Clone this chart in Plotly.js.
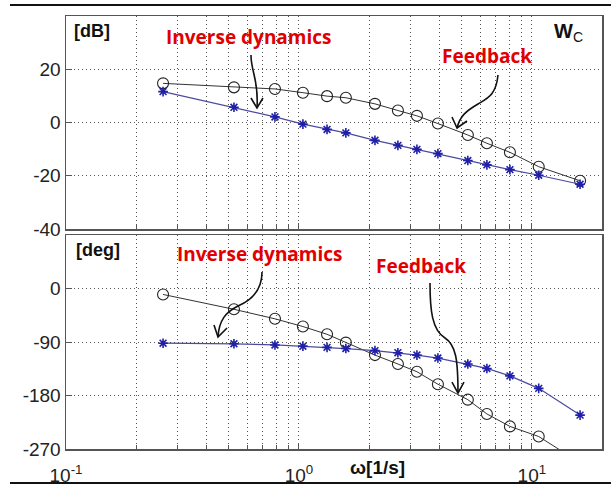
<!DOCTYPE html>
<html>
<head>
<meta charset="utf-8">
<script src="https://cdn.plot.ly/plotly-3.0.1.min.js"></script>
<style>
html,body{margin:0;padding:0;background:#fff;}
#wrap{position:relative;width:611px;height:487px;}
#chart{width:611px;height:487px;}
.frame{position:absolute;left:10px;width:601px;height:0;border-top:2px solid #111;pointer-events:none;}
</style>
</head>
<body>
<div id="wrap">
<div id="chart"></div>
<div class="frame" style="top:4px"></div>
<div class="frame" style="top:482px"></div>
</div>
<script>
// Frequencies [1/s]
const freq = [0.261, 0.526, 0.789, 1.04, 1.32, 1.59, 2.12, 2.66, 3.21, 3.95, 5.31, 6.41, 8.05, 10.7, 16.1];
// Magnitude [dB]
const magFeedback = [14.7, 13.2, 12.6, 11.2, 9.9, 9.3, 7.0, 4.5, 2.5, -0.4, -4.7, -7.8, -11.2, -16.6, -21.9];
const magInverse  = [11.6, 5.7, 2.1, -0.6, -2.6, -3.9, -6.7, -8.6, -10.1, -11.7, -14.3, -15.9, -17.7, -19.8, -23.2];
// Phase [deg]
const phFeedback = [-10, -35, -51, -64, -77, -91, -112, -127, -140, -161, -187, -211, -232, -249, -293];
const phInverse  = [-92, -93, -95, -97, -99, -101, -104.5, -108, -112, -117, -127, -134.5, -147, -168, -213];
// Tick labels
const xTickVals = [0.1, 1, 10];
const xTickText = ['10<sup>-1</sup>', '10<sup>0</sup>', '10<sup>1</sup>'];
const magTicks = [-40, -20, 0, 20];
const magTickText = ['-40', '-20', '0', '20'];
const phTicks = [-270, -180, -90, 0];
const phTickText = ['-270', '-180', '-90', '0'];

const L = 66, R = 602, T = 16, B = 449;
const W = R - L, H = B - T;
const px = x => (x - L) / W;
const py = y => (B - y) / H;
const P = (x, y) => px(x).toFixed(4) + ',' + py(y).toFixed(4);

const fbLine = {color: '#333', width: 1};
const fbMarker = {symbol: 'circle-open', size: 11, color: '#222', line: {width: 1.1}};
const invLine = {color: '#4a4aa0', width: 1.2};
const invMarker = {symbol: 'asterisk-open', size: 8, color: '#1f1fa8', line: {width: 1.6, color: '#1f1fa8'}};

const traces = [
  {x: freq, y: magFeedback, xaxis: 'x', yaxis: 'y', mode: 'lines+markers', line: fbLine, marker: fbMarker},
  {x: freq, y: magInverse, xaxis: 'x', yaxis: 'y', mode: 'lines+markers', line: invLine, marker: invMarker},
  {x: freq, y: phFeedback, xaxis: 'x2', yaxis: 'y2', mode: 'lines+markers', line: fbLine, marker: fbMarker},
  {x: freq, y: phInverse, xaxis: 'x2', yaxis: 'y2', mode: 'lines+markers', line: invLine, marker: invMarker}
];

const tickFont = {family: 'Liberation Sans, Arial, sans-serif', size: 19, color: '#222'};
const gridCol = '#555';
const gridDash = '1px,3px';
const xCommon = {
  type: 'log', range: [-1, Math.log10(20)], dtick: 1,
  showline: true, mirror: true, linecolor: '#555', linewidth: 1.5,
  showgrid: true, gridcolor: gridCol, griddash: gridDash, gridwidth: 1,
  ticks: 'inside', ticklen: 6, tickcolor: '#555',
  minor: {dtick: 'D1', showgrid: true, gridcolor: gridCol, griddash: gridDash, gridwidth: 1, ticks: 'inside', ticklen: 4, tickcolor: '#555'},
  zeroline: false, tickfont: tickFont
};
const yCommon = {
  showline: true, mirror: true, linecolor: '#555', linewidth: 1.5,
  showgrid: true, gridcolor: gridCol, griddash: gridDash, gridwidth: 1,
  ticks: 'inside', ticklen: 6, tickcolor: '#555',
  zeroline: false, tickfont: tickFont
};

const arrowLine = {color: '#111', width: 1.6};
const shapes = [
  // top inverse dynamics arrow
  {type: 'path', xref: 'paper', yref: 'paper', path: 'M' + P(251, 55) + ' C' + P(251, 72) + ' ' + P(259, 80) + ' ' + P(257, 108), line: arrowLine},
  {type: 'path', xref: 'paper', yref: 'paper', path: 'M' + P(251, 98) + ' L' + P(257, 108) + ' L' + P(263, 98), line: arrowLine},
  // top feedback arrow
  {type: 'path', xref: 'paper', yref: 'paper', path: 'M' + P(498, 75) + ' C' + P(496, 95) + ' ' + P(488, 98) + ' ' + P(478, 104) + ' C' + P(466, 111) + ' ' + P(460, 116) + ' ' + P(457, 128), line: arrowLine},
  {type: 'path', xref: 'paper', yref: 'paper', path: 'M' + P(452, 117) + ' L' + P(457, 128) + ' L' + P(467, 121), line: arrowLine},
  // bottom inverse dynamics arrow
  {type: 'path', xref: 'paper', yref: 'paper', path: 'M' + P(262, 272) + ' C' + P(262, 290) + ' ' + P(252, 300) + ' ' + P(238, 306) + ' C' + P(226, 312) + ' ' + P(219, 320) + ' ' + P(218, 337), line: arrowLine},
  {type: 'path', xref: 'paper', yref: 'paper', path: 'M' + P(214, 325) + ' L' + P(218, 337) + ' L' + P(227, 328), line: arrowLine},
  // bottom feedback arrow
  {type: 'path', xref: 'paper', yref: 'paper', path: 'M' + P(430, 283) + ' C' + P(430, 310) + ' ' + P(432, 330) + ' ' + P(445, 338) + ' C' + P(456, 345) + ' ' + P(458, 360) + ' ' + P(458, 393), line: arrowLine},
  {type: 'path', xref: 'paper', yref: 'paper', path: 'M' + P(452, 382) + ' L' + P(458, 393) + ' L' + P(464, 382), line: arrowLine}
];

const redFont = {family: 'Open Sans, sans-serif', size: 19, color: '#e00000', weight: 'bold'};
const blackFont = {family: 'Liberation Sans, Arial, sans-serif', size: 18, color: '#111'};
const ann = (text, x, y, font, xanchor) => ({text, xref: 'paper', yref: 'paper', x: px(x), y: py(y), xanchor: xanchor || 'left', yanchor: 'middle', showarrow: false, font});
const annotations = [
  ann('<b>[dB]</b>', 72, 31, blackFont),
  ann('<b>[deg]</b>', 74, 250, blackFont),
  ann('<b>Inverse dynamics</b>', 164, 37, redFont),
  ann('<b>Inverse dynamics</b>', 175, 254, redFont),
  ann('<b>Feedback</b>', 440, 56, redFont),
  ann('<b>Feedback</b>', 374, 266, redFont),
  ann('<b>W</b><sub>C</sub>', 552, 32, {family: 'Liberation Sans, Arial, sans-serif', size: 20, color: '#111'}),
  ann('<b>ω[1/s]</b>', 377, 467, {family: 'Liberation Sans, Arial, sans-serif', size: 19, color: '#111'}, 'center')
];

const layout = {
  width: 611, height: 487,
  margin: {l: L, r: 611 - R, t: T, b: 487 - B},
  paper_bgcolor: '#fff', plot_bgcolor: '#fff',
  showlegend: false,
  xaxis: Object.assign({}, xCommon, {anchor: 'y', showticklabels: false, domain: [0, 1]}),
  yaxis: Object.assign({}, yCommon, {range: [-40, 40], tickvals: magTicks, ticktext: magTickText, domain: [py(229), 1]}),
  xaxis2: Object.assign({}, xCommon, {anchor: 'y2', tickvals: xTickVals, ticktext: xTickText, ticklabelstandoff: 9, domain: [0, 1]}),
  yaxis2: Object.assign({}, yCommon, {range: [-270, 90], tickvals: phTicks, ticktext: phTickText, domain: [0, py(235)]}),
  shapes, annotations
};

Plotly.newPlot('chart', traces, layout, {staticPlot: true, displayModeBar: false});
</script>
</body>
</html>
